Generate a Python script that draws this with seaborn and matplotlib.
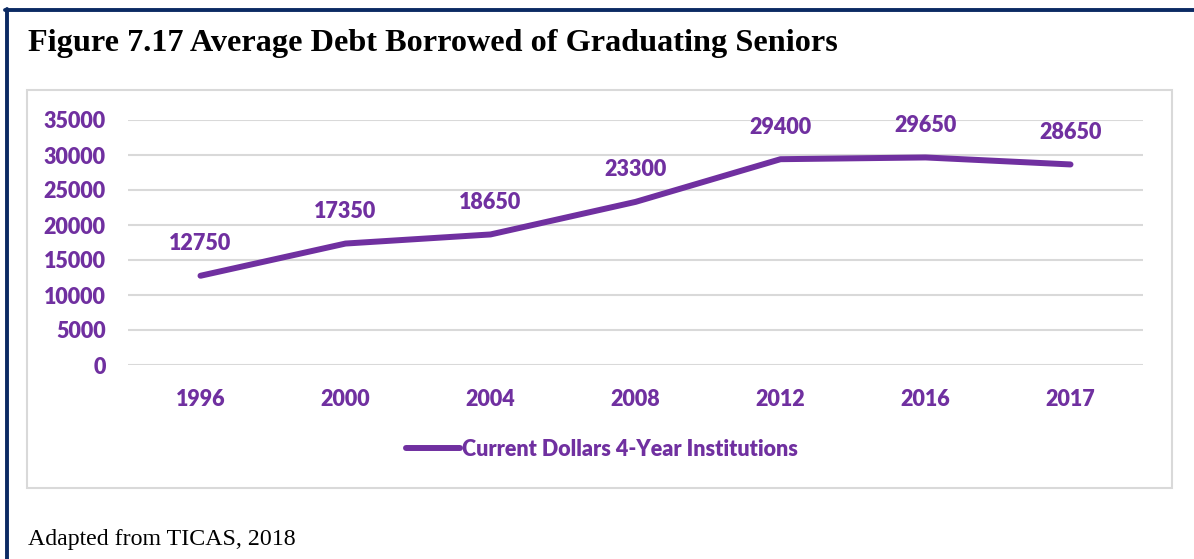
import matplotlib
matplotlib.use("Agg")
import matplotlib.pyplot as plt
from matplotlib.patches import Rectangle
from matplotlib.lines import Line2D
import seaborn as sns
import pandas as pd

years = ["1996", "2000", "2004", "2008", "2012", "2016", "2017"]
avg_debt = [12750, 17350, 18650, 23300, 29400, 29650, 28650]
series_name = "Current Dollars 4-Year Institutions"
y_ticks = [0, 5000, 10000, 15000, 20000, 25000, 30000, 35000]

PURPLE = "#7030a0"
GRID = "#d9d9d9"
NAVY = "#0b2a63"
LABEL_SIZE = 15.5
LABEL_WEIGHT = "heavy"

df = pd.DataFrame({"year": years, "debt": avg_debt, "series": series_name})

sns.set_theme(style="white")
plt.rcParams["font.family"] = ["Lato", "DejaVu Sans"]

fig = plt.figure(figsize=(11.94, 5.59), dpi=100)
fig.patch.set_facecolor("white")

# outer frame (left and top edges) and inner chart box
fig.add_artist(Line2D([6.5 / 1194, 6.5 / 1194], [0, 1 - 9 / 559],
                      transform=fig.transFigure, color=NAVY, lw=2.8))
fig.add_artist(Line2D([5 / 1194, 1], [1 - 10 / 559, 1 - 10 / 559],
                      transform=fig.transFigure, color=NAVY, lw=2.8))
fig.add_artist(Rectangle((27 / 1194, 1 - 488 / 559), (1172 - 27) / 1194,
                         (488 - 90) / 559, transform=fig.transFigure,
                         fill=False, edgecolor=GRID, lw=1.5))

ax = fig.add_axes([128 / 1194, 1 - 365 / 559, (1143 - 128) / 1194, (365 - 120) / 559])
sns.lineplot(data=df, x="year", y="debt", hue="series", palette=[PURPLE],
             linewidth=4.3, ax=ax, legend=False, sort=False)
for ln in ax.get_lines():
    ln.set_solid_capstyle("round")
    ln.set_solid_joinstyle("round")

ax.set_xlim(-0.5, len(years) - 0.5)
ax.set_ylim(0, 35000)
ax.set_yticks(y_ticks)
ax.set_yticklabels([str(v) for v in y_ticks])
ax.yaxis.grid(True, color=GRID, lw=1.5)
ax.set_axisbelow(True)
for s in ax.spines.values():
    s.set_visible(False)
ax.set_xlabel("")
ax.set_ylabel("")
ax.tick_params(axis="both", length=0, labelsize=LABEL_SIZE, labelcolor=PURPLE)
ax.tick_params(axis="y", pad=16)
ax.tick_params(axis="x", pad=17)
for lbl in ax.get_xticklabels() + ax.get_yticklabels():
    lbl.set_fontweight(LABEL_WEIGHT)

for i, v in enumerate(avg_debt):
    ax.annotate(str(v), (i, v), xytext=(0, 23), textcoords="offset points",
                ha="center", va="center", color=PURPLE, fontsize=LABEL_SIZE,
                fontweight=LABEL_WEIGHT)

handle = Line2D([], [], color=PURPLE, lw=4.3, solid_capstyle="round")
leg = fig.legend([handle], [series_name], loc="center",
                 bbox_to_anchor=(602 / 1194, 1 - 449 / 559), frameon=False,
                 handlelength=2.5, handletextpad=0.1,
                 prop={"family": ["Lato", "DejaVu Sans"], "weight": LABEL_WEIGHT,
                       "size": LABEL_SIZE})
for t in leg.get_texts():
    t.set_color(PURPLE)

fig.text(28 / 1194, 1 - 44 / 559, "Figure 7.17 Average Debt Borrowed of Graduating Seniors",
         family=["Liberation Serif", "DejaVu Serif"], fontweight="bold",
         fontsize=23.2, color="black", ha="left", va="center")
fig.text(28 / 1194, 1 - 539 / 559, "Adapted from TICAS, 2018",
         family=["Liberation Serif", "DejaVu Serif"], fontsize=17.2,
         color="black", ha="left", va="center")

fig.savefig("out.png", dpi=100, facecolor="white")
